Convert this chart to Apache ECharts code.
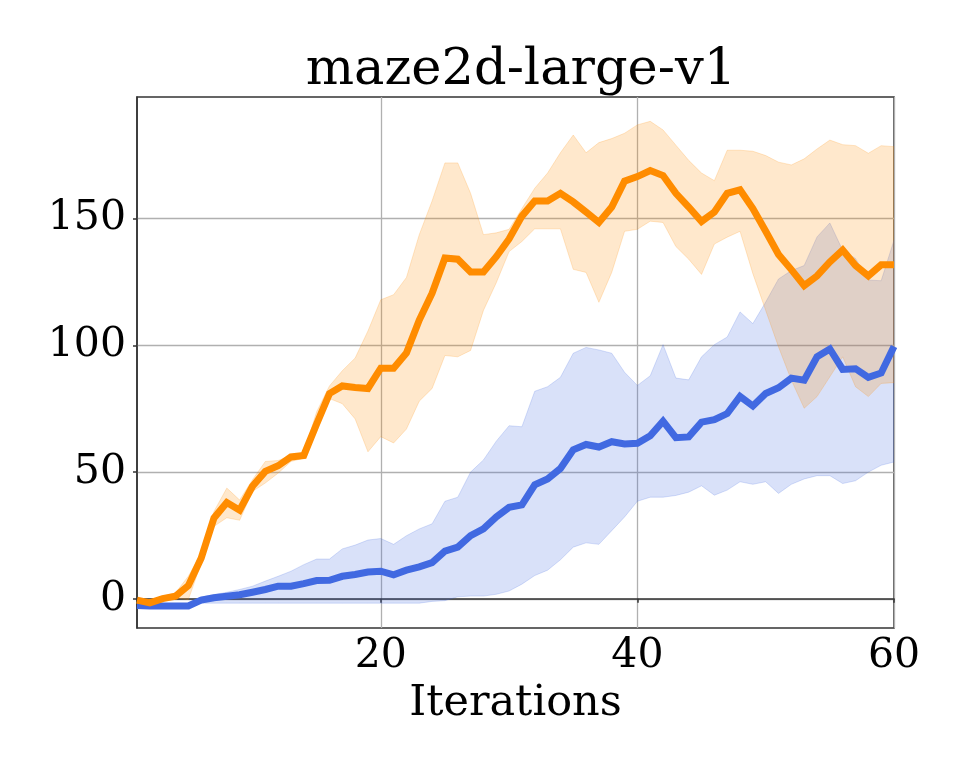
<!DOCTYPE html>
<html>
<head>
<meta charset="utf-8">
<script src="https://cdn.jsdelivr.net/npm/echarts@6/dist/echarts.min.js"></script>
<style>
  html, body { margin: 0; padding: 0; background: #fff; }
  #chart { width: 969px; height: 775px; }
</style>
</head>
<body>
<div id="chart"></div>
<script>
// iterations 1..60
var iterations = [];
for (var n = 1; n <= 60; n++) iterations.push(n);

// orange run: mean and band
var orangeMean = [-0.5, -1.6, 0.1, 1, 5.2, 16, 31.9, 38, 35, 44.4,
  50.3, 52.5, 56, 56.6, 69, 81, 84, 83.4, 83, 91,
  91, 97, 110, 120.6, 134.5, 134, 129, 129, 135, 142,
  151, 157, 157, 160, 156.6, 152.6, 148.5, 154.6, 164.8, 166.6,
  169, 167, 160, 154.6, 148.9, 152.6, 160, 161.4, 154, 145,
  135.9, 129.9, 123.6, 127.4, 132.9, 137.6, 131.5, 127.4, 131.8, 131.8];
var orangeUpper = [0, -1, 1, 2.4, 8.9, 18, 34.5, 43.7, 39, 47,
  54.2, 54.6, 56.5, 57.5, 73.8, 84, 90, 95, 105.7, 118,
  120, 126.8, 143.7, 157, 172, 172, 160, 143.7, 144.4, 145.8,
  154, 162, 168, 176, 183, 176, 180, 181.6, 183.7, 187,
  188.4, 185, 179, 173, 168, 165, 177, 177, 176.6, 174.9,
  172.3, 171.2, 173.6, 177.5, 181, 179.2, 178.8, 175.8, 178.8, 178.4];
var orangeLower = [-2, -2.5, -1, 0.4, -0.3, 14, 28.6, 32, 31, 42.4,
  45.7, 49.6, 54.2, 55.5, 66, 79, 77, 71, 58, 64,
  61.5, 67, 78, 83, 96, 95.5, 98, 113.8, 124.7, 137,
  141, 146, 146, 146, 130, 128.8, 117, 128.8, 145, 145.8,
  149, 148.5, 139, 134, 128, 140, 142.7, 145, 128.3, 113.8,
  99.4, 86.3, 75.2, 79.8, 87.6, 95.5, 83.7, 79.8, 85, 85.3];

// blue run: mean and band
var blueMean = [-2.6, -2.8, -2.8, -2.8, -2.8, -0.5, 0.4, 1, 1.6, 2.6,
  3.7, 5, 5, 6, 7.2, 7.3, 8.9, 9.6, 10.6, 10.9,
  9.5, 11.3, 12.6, 14.3, 18.8, 20.4, 24.9, 27.6, 32.3, 36.1,
  37.1, 45, 47.3, 51.4, 58.8, 60.9, 59.9, 62, 61.1, 61.4,
  64.3, 70.1, 63.6, 63.9, 69.7, 70.7, 73.1, 79.9, 76.1, 81,
  83.3, 87.1, 86.3, 95.5, 98.6, 90.5, 90.8, 87.4, 89.1, 99.6];
var blueUpper = [-2, -2, -2, -2, -1.8, 0.7, 1.7, 2.6, 3.7, 5,
  7, 8.9, 10.9, 13.5, 15.7, 15.7, 19.7, 21.2, 23.2, 23.8,
  21.5, 24.9, 27.6, 29.6, 38.5, 40.1, 50, 54.8, 62.2, 68.3,
  67.9, 81.9, 83.7, 87.4, 96.9, 99.2, 98.2, 96.9, 89.4, 84.2,
  88, 100.3, 87.1, 86.4, 95.5, 100.3, 103.3, 113.2, 108.6, 117.1,
  126.2, 129.5, 131.5, 142.8, 148.3, 137.5, 134.3, 125.8, 125.5, 141.5];
var blueLower = [-3, -3, -3, -3, -2.9, -1.7, -1.7, -1.7, -1.7, -1.7,
  -1.7, -1.7, -1.7, -1.7, -1.7, -1.7, -1.7, -1.7, -1.7, -1.7,
  -1.7, -1.7, -1.7, -1, -0.7, 0.8, 1.1, 1.1, 1.8, 3.1,
  5.8, 9.2, 11.3, 15.4, 20.4, 22.1, 21.5, 26.9, 32.3, 38.5,
  40.1, 40.1, 40.8, 42.1, 44.6, 40.9, 42.9, 46.2, 45.2, 46.2,
  41.6, 45.2, 47.3, 48.6, 48.6, 45.5, 46.6, 50, 52.7, 54];

var xTicks = [20, 40, 60];
var yTicks = [0, 50, 100, 150];

var ORANGE = '#FF8C00';
var BLUE = '#4169E1';
var FONT = 'DejaVu Serif';

function pairs(ys) {
  return ys.map(function (v, i) { return [iterations[i], v]; });
}

// shaded band drawn as one polygon through the axis scales
function band(lower, upper, color) {
  var data = iterations.map(function (x, i) { return [x, lower[i], upper[i]]; });
  return {
    type: 'custom', data: data, silent: true, z: 1, clip: true,
    encode: { x: 0, y: [1, 2] },
    renderItem: function (params, api) {
      if (params.dataIndex !== 0) return null;
      var pts = [];
      for (var i = 0; i < iterations.length; i++) pts.push(api.coord([iterations[i], upper[i]]));
      for (var j = iterations.length - 1; j >= 0; j--) pts.push(api.coord([iterations[j], lower[j]]));
      return {
        type: 'polygon',
        shape: { points: pts },
        style: { fill: color, opacity: 0.2, stroke: color, lineWidth: 1 }
      };
    }
  };
}

function meanLine(values, color, z) {
  return {
    type: 'line', data: pairs(values), symbol: 'none', silent: true, z: z,
    lineStyle: { color: color, width: 7, cap: 'butt', join: 'miter' }
  };
}

var chart = echarts.init(document.getElementById('chart'), null, { renderer: 'canvas' });

var series = [
  band(blueLower, blueUpper, BLUE),
  band(orangeLower, orangeUpper, ORANGE),
  meanLine(blueMean, BLUE, 5),
  meanLine(orangeMean, ORANGE, 6)
];

chart.setOption({
  animation: false,
  backgroundColor: '#fff',
  title: {
    text: 'maze2d-large-v1',
    left: 516, top: 40, textAlign: 'center',
    textStyle: { fontFamily: FONT, fontSize: 51, fontWeight: 'normal', color: '#000' }
  },
  grid: {
    left: 137, right: 75, top: 97, bottom: 147,
    show: true, borderColor: '#333', borderWidth: 1.5
  },
  xAxis: {
    type: 'value', min: 1, max: 60,
    name: 'Iterations', nameLocation: 'middle', nameGap: 54,
    nameTextStyle: { fontFamily: FONT, fontSize: 43, color: '#000' },
    axisLine: { show: true, lineStyle: { color: '#333', width: 1.5 } },
    axisTick: { show: true, inside: false, length: 4, customValues: xTicks,
      lineStyle: { color: '#333', width: 1.5 } },
    axisLabel: { customValues: xTicks, margin: 8, fontFamily: FONT, fontSize: 41, color: '#000' },
    splitLine: { show: true, lineStyle: { color: '#b0b0b0', width: 1.3 } }
  },
  yAxis: {
    type: 'value', min: -11.5, max: 198,
    axisLine: { show: true, lineStyle: { color: '#333', width: 1.5 } },
    axisTick: { show: true, inside: false, length: 4, customValues: yTicks,
      lineStyle: { color: '#333', width: 1.5 } },
    axisLabel: { customValues: yTicks, margin: 11, fontFamily: FONT, fontSize: 41, color: '#000' },
    splitLine: { show: true, lineStyle: { color: '#b0b0b0', width: 1.3 } }
  },
  series: series
});
</script>
</body>
</html>
